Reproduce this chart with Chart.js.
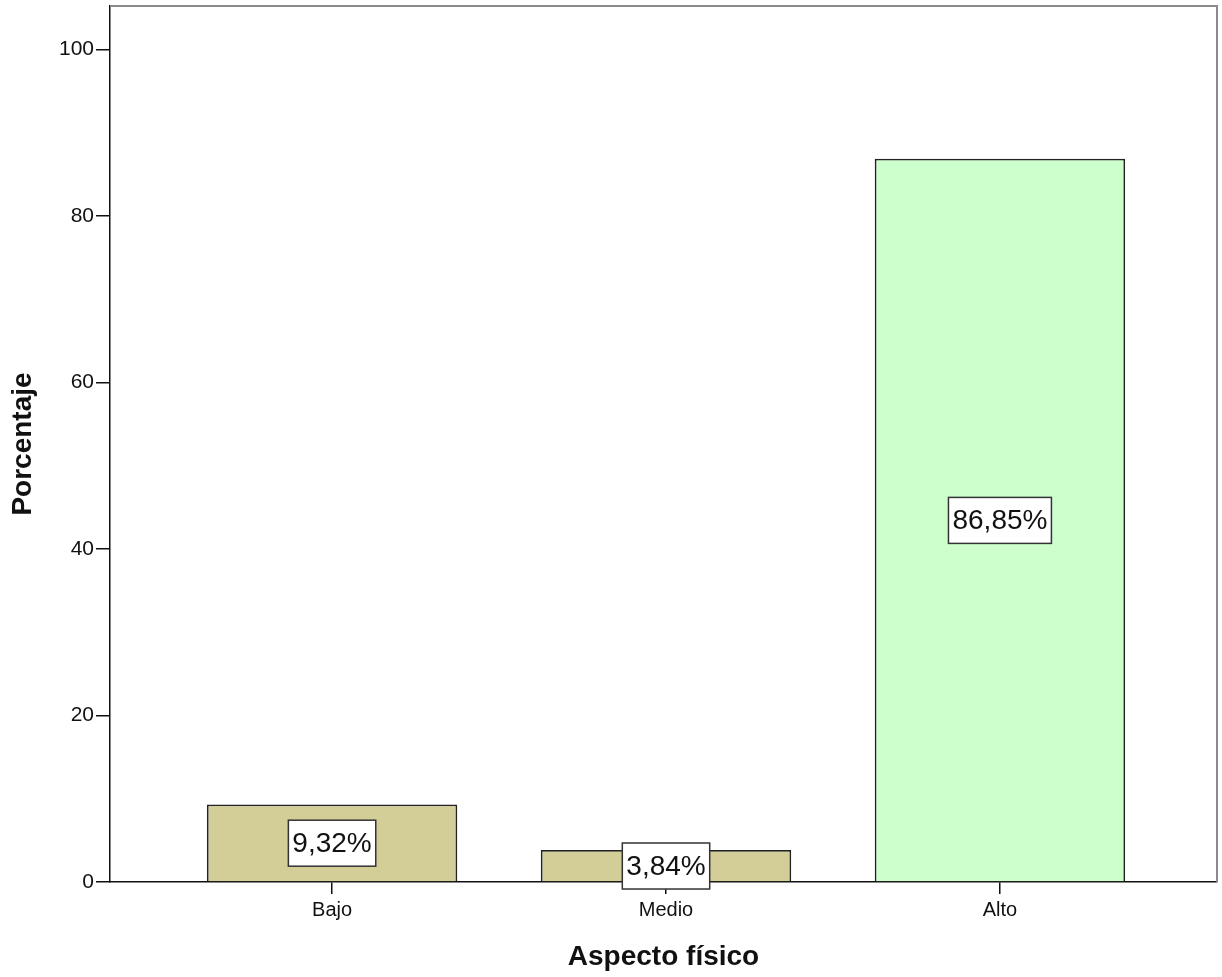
<!DOCTYPE html>
<html>
<head>
<meta charset="utf-8">
<script src="https://cdn.jsdelivr.net/npm/chart.js@4/dist/chart.umd.min.js"></script>
<style>
  body { margin: 0; background: #fff; }
</style>
</head>
<body>
<canvas id="chart" width="1222" height="977"></canvas>
<script>
// Categories and percentages for the bar chart.
const categorias = ['Bajo', 'Medio', 'Alto'];
const porcentajes = [9.32, 3.84, 86.85];
const marcasY = [0, 20, 40, 60, 80, 100];

const fuente = "'Liberation Sans', Arial, sans-serif";

// Draw the value boxes in the middle of each bar.
const etiquetasBarras = {
  id: 'etiquetasBarras',
  afterDatasetsDraw(chart) {
    const ctx = chart.ctx;
    const yScale = chart.scales.y;
    const meta = chart.getDatasetMeta(0);
    ctx.save();
    ctx.font = '28px ' + fuente;
    ctx.textAlign = 'center';
    ctx.textBaseline = 'middle';
    meta.data.forEach((bar, i) => {
      const valor = porcentajes[i];
      const texto = valor.toFixed(2).replace('.', ',') + '%';
      const w = ctx.measureText(texto).width + 8;
      const h = 46;
      const cy = yScale.getPixelForValue(valor / 2);
      ctx.fillStyle = '#fff';
      ctx.fillRect(bar.x - w / 2, cy - h / 2, w, h);
      ctx.strokeStyle = '#333';
      ctx.lineWidth = 1.5;
      ctx.strokeRect(bar.x - w / 2, cy - h / 2, w, h);
      ctx.fillStyle = '#111';
      ctx.fillText(texto, bar.x, cy + 1);
    });
    ctx.restore();
  },
  afterDraw(chart) {
    // Gray frame on the top and right edges.
    const { ctx, chartArea } = chart;
    ctx.save();
    ctx.strokeStyle = '#8a8a8a';
    ctx.lineWidth = 2;
    ctx.beginPath();
    ctx.moveTo(chartArea.left, chartArea.top);
    ctx.lineTo(chartArea.right, chartArea.top);
    ctx.lineTo(chartArea.right, chartArea.bottom);
    ctx.stroke();
    ctx.restore();
  }
};

const chart = new Chart('chart', {
  type: 'bar',
  data: {
    datasets: [{
      data: porcentajes.map((v, i) => ({ x: i, y: v })),
      backgroundColor: ['#d3ce97', '#d3ce97', '#ccffcc'],
      borderColor: '#222',
      borderWidth: 1.8,
      barPercentage: 0.75,
      categoryPercentage: 1
    }]
  },
  options: {
    responsive: false,
    animation: false,
    layout: { padding: { top: 6, right: 5, left: 0, bottom: 0 } },
    plugins: {
      legend: { display: false },
      tooltip: { enabled: false }
    },
    scales: {
      x: {
        type: 'linear',
        min: -0.665,
        max: 2.65,
        offset: false,
        grid: {
          offset: false,
          drawOnChartArea: false,
          tickLength: 12,
          color: '#111',
          lineWidth: 1.5
        },
        border: { color: '#111', width: 1.5 },
        ticks: {
          color: '#111',
          padding: 4,
          font: { family: fuente, size: 20 },
          callback: v => categorias[v]
        },
        title: {
          display: true,
          text: 'Aspecto físico',
          color: '#111',
          font: { family: fuente, size: 28, weight: 'bold' },
          padding: { top: 0, bottom: 3 }
        },
        afterBuildTicks(scale) {
          scale.ticks = categorias.map((c, i) => ({ value: i }));
        },
        afterFit(scale) {
          scale.height = 95;
          scale.paddingLeft = 0;
          scale.paddingRight = 0;
        }
      },
      y: {
        min: 0,
        max: 105.2,
        grid: {
          drawOnChartArea: false,
          tickLength: 14,
          color: '#111',
          lineWidth: 1.5
        },
        border: { color: '#111', width: 1.5 },
        ticks: { color: '#111', padding: 2, font: { family: fuente, size: 21 } },
        title: {
          display: true,
          text: 'Porcentaje',
          color: '#111',
          font: { family: fuente, size: 28, weight: 'bold' },
          padding: { top: 6, bottom: 0 }
        },
        afterBuildTicks(scale) {
          scale.ticks = marcasY.map(v => ({ value: v }));
        },
        afterFit(scale) {
          scale.width = 110;
          scale.paddingTop = 0;
          scale.paddingBottom = 0;
        }
      }
    }
  },
  plugins: [etiquetasBarras]
});
</script>
</body>
</html>
